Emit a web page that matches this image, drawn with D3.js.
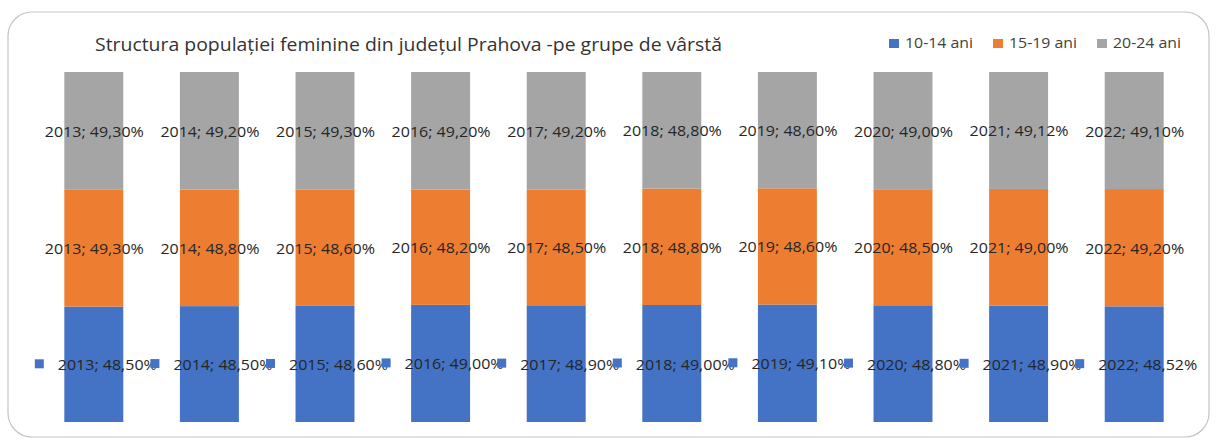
<!DOCTYPE html>
<html>
<head>
<meta charset="utf-8">
<script src="https://cdn.jsdelivr.net/npm/d3@7"></script>
<style>
  body { margin: 0; background: #fff; }
  svg { display: block; }
</style>
</head>
<body>
<div id="chart"></div>
<script>
const WIDTH = 1216;
const HEIGHT = 441;

const years = ['2013', '2014', '2015', '2016', '2017', '2018', '2019', '2020', '2021', '2022'];
const seriesNames = ['10-14 ani', '15-19 ani', '20-24 ani'];
const v1014 = [48.50, 48.50, 48.60, 49.00, 48.90, 49.00, 49.10, 48.80, 48.90, 48.52];
const v1519 = [49.30, 48.80, 48.60, 48.20, 48.50, 48.80, 48.60, 48.50, 49.00, 49.20];
const v2024 = [49.30, 49.20, 49.30, 49.20, 49.20, 48.80, 48.60, 49.00, 49.12, 49.10];
const colors = ['#4472C4', '#ED7D31', '#A5A5A5'];

const FONT = "'Open Sans', 'Noto Sans', sans-serif";

const rows = years.map((y, i) => ({
    year: y,
    '10-14 ani': v1014[i],
    '15-19 ani': v1519[i],
    '20-24 ani': v2024[i]
}));

const stacked = d3.stack()
    .keys(seriesNames)
    .offset(d3.stackOffsetExpand)(rows);

const svg = d3.select('#chart').append('svg')
    .attr('width', WIDTH)
    .attr('height', HEIGHT);

// chart frame
svg.append('rect')
    .attr('x', 8).attr('y', 12)
    .attr('width', 1201).attr('height', 425)
    .attr('rx', 24)
    .attr('fill', '#fff')
    .attr('stroke', '#c4c4c4')
    .attr('stroke-width', 1.2);

const x = d3.scaleBand()
    .domain(years)
    .range([36, 1192])
    .paddingInner(0.49)
    .paddingOuter(0.245);

const y = d3.scaleLinear()
    .domain([0, 1])
    .range([422, 72]);

const color = d3.scaleOrdinal().domain(seriesNames).range(colors);

// bars
svg.append('g')
  .selectAll('g')
  .data(stacked)
  .join('g')
    .attr('fill', d => color(d.key))
  .selectAll('rect')
  .data(d => d)
  .join('rect')
    .attr('x', d => x(d.data.year))
    .attr('y', d => y(d[1]))
    .attr('width', x.bandwidth())
    .attr('height', d => y(d[0]) - y(d[1]));

const fmt = v => d3.format('.2f')(v).replace('.', ',') + '%';

// data labels
stacked.forEach((s, si) => {
    const g = svg.append('g');
    s.forEach(d => {
        const cx = x(d.data.year) + x.bandwidth() / 2;
        const cy = (y(d[0]) + y(d[1])) / 2;
        const label = d.data.year + '; ' + fmt(d.data[s.key]);
        if (si === 0) {
            // first series shows legend key in label
            g.append('rect')
                .attr('x', cx - 59)
                .attr('y', cy - 5)
                .attr('width', 9)
                .attr('height', 9)
                .attr('fill', color(s.key));
            g.append('text')
                .attr('x', cx - 36)
                .attr('y', cy + 6)
                .attr('textLength', 99)
                .attr('lengthAdjust', 'spacingAndGlyphs')
                .style('font-family', FONT)
                .style('font-size', '15px')
                .attr('fill', '#262626')
                .text(label);
        } else {
            g.append('text')
                .attr('x', cx - 49)
                .attr('y', cy + 6)
                .attr('textLength', 99)
                .attr('lengthAdjust', 'spacingAndGlyphs')
                .style('font-family', FONT)
                .style('font-size', '15px')
                .attr('fill', '#262626')
                .text(label);
        }
    });
});

// title
svg.append('text')
    .attr('x', 95)
    .attr('y', 51)
    .attr('textLength', 627)
    .attr('lengthAdjust', 'spacingAndGlyphs')
    .style('font-family', FONT)
    .style('font-size', '19px')
    .attr('fill', '#333')
    .text('Structura populației feminine din județul Prahova -pe grupe de vârstă');

// legend
const legendX = [889, 993, 1097];
const legend = svg.append('g');
seriesNames.forEach((name, i) => {
    legend.append('rect')
        .attr('x', legendX[i])
        .attr('y', 39)
        .attr('width', 10)
        .attr('height', 9)
        .attr('fill', color(name));
    legend.append('text')
        .attr('x', legendX[i] + 16)
        .attr('y', 48)
        .attr('textLength', 68)
        .attr('lengthAdjust', 'spacingAndGlyphs')
        .style('font-family', FONT)
        .style('font-size', '14px')
        .attr('fill', '#404040')
        .text(name);
});
</script>
</body>
</html>
